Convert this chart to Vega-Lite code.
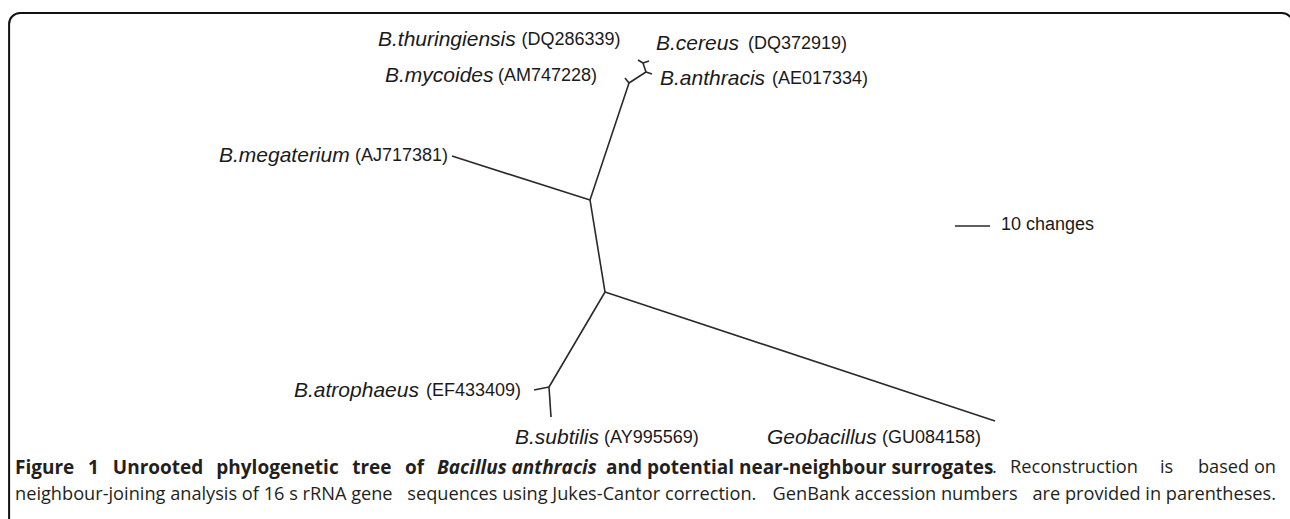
{
  "$schema": "https://vega.github.io/schema/vega-lite/v6.json",
  "width": 1290,
  "height": 519,
  "autosize": "none",
  "padding": 0,
  "background": "white",
  "config": {"view": {"stroke": null}},
  "datasets": {
    "frame": [{"x": 2.6, "y": 3.71, "x2": 369.4, "y2": 160}],
    "edges": [
      {"x": 168.57, "y": 57.14, "x2": 129.14, "y2": 44.6},
      {"x": 168.57, "y": 57.14, "x2": 172.86, "y2": 83.43},
      {"x": 168.57, "y": 57.14, "x2": 179.71, "y2": 23.71},
      {"x": 179.71, "y": 23.71, "x2": 178.57, "y2": 22.29},
      {"x": 179.71, "y": 23.71, "x2": 184.57, "y2": 20.57},
      {"x": 184.57, "y": 20.57, "x2": 186.29, "y2": 21.14},
      {"x": 184.57, "y": 20.57, "x2": 183.71, "y2": 18.0},
      {"x": 183.71, "y": 18.0, "x2": 182.29, "y2": 17.14},
      {"x": 183.71, "y": 18.0, "x2": 185.43, "y2": 17.43},
      {"x": 172.86, "y": 83.43, "x2": 156.86, "y2": 110.57},
      {"x": 156.86, "y": 110.57, "x2": 152.57, "y2": 111.43},
      {"x": 156.86, "y": 110.57, "x2": 157.43, "y2": 119.14},
      {"x": 172.86, "y": 83.43, "x2": 284.29, "y2": 120.29}
    ],
    "scalebar": [{"x": 272.86, "y": 64.57, "x2": 282.86, "y2": 64.57}],
    "names": [
      {"x": 108.0, "y": 11.43, "t": "B.thuringiensis"},
      {"x": 187.43, "y": 12.57, "t": "B.cereus"},
      {"x": 110.0, "y": 21.71, "t": "B.mycoides"},
      {"x": 188.57, "y": 22.57, "t": "B.anthracis"},
      {"x": 62.57, "y": 44.6, "t": "B.megaterium"},
      {"x": 84.0, "y": 111.71, "t": "B.atrophaeus"},
      {"x": 147.14, "y": 125.14, "t": "B.subtilis"},
      {"x": 219.14, "y": 125.14, "t": "Geobacillus"}
    ],
    "accs": [
      {"x": 149.0, "y": 11.43, "t": "(DQ286339)"},
      {"x": 213.71, "y": 12.57, "t": "(DQ372919)"},
      {"x": 142.29, "y": 21.71, "t": "(AM747228)"},
      {"x": 220.57, "y": 22.57, "t": "(AE017334)"},
      {"x": 101.43, "y": 44.6, "t": "(AJ717381)"},
      {"x": 121.71, "y": 111.71, "t": "(EF433409)"},
      {"x": 172.57, "y": 125.14, "t": "(AY995569)"},
      {"x": 252.0, "y": 125.14, "t": "(GU084158)"}
    ],
    "scaletext": [{"x": 286.0, "y": 64.29, "t": "10 changes"}],
    "capBold": [
      {"x": 4.29, "y": 133.71, "t": "Figure"},
      {"x": 25.17, "y": 133.71, "t": "1"},
      {"x": 32.23, "y": 133.71, "t": "Unrooted"},
      {"x": 61.8, "y": 133.71, "t": "phylogenetic"},
      {"x": 100.63, "y": 133.71, "t": "tree"},
      {"x": 115.69, "y": 133.71, "t": "of"},
      {"x": 173.14, "y": 133.71, "t": "and potential near-neighbour surrogates"}
    ],
    "capBoldItalic": [{"x": 124.86, "y": 133.71, "t": "Bacillus anthracis"}],
    "capLeft": [
      {"x": 283.43, "y": 133.71, "t": "."},
      {"x": 288.57, "y": 133.71, "t": "Reconstruction"},
      {"x": 331.43, "y": 133.71, "t": "is"},
      {"x": 4.29, "y": 141.43, "t": "neighbour-joining analysis of 16 s rRNA gene"},
      {"x": 116.37, "y": 141.43, "t": "sequences using Jukes-Cantor correction."},
      {"x": 220.74, "y": 141.43, "t": "GenBank accession numbers"}
    ],
    "capRight": [
      {"x": 364.57, "y": 133.71, "t": "based on"},
      {"x": 364.57, "y": 141.43, "t": "are provided in parentheses."}
    ]
  },
  "layer": [
    {
      "data": {"name": "frame"},
      "mark": {"type": "rect", "fill": "transparent", "stroke": "#111111", "strokeWidth": 2, "cornerRadius": 11},
      "encoding": {
        "x": {"field": "x", "type": "quantitative", "scale": {"domain": [0, 368.57], "nice": false, "zero": false}, "axis": null},
        "x2": {"field": "x2"},
        "y": {"field": "y", "type": "quantitative", "scale": {"domain": [0, 148.29], "nice": false, "zero": false, "reverse": true}, "axis": null},
        "y2": {"field": "y2"}
      }
    },
    {
      "data": {"name": "edges"},
      "mark": {"type": "rule", "stroke": "#2a2a2a", "strokeWidth": 1.6},
      "encoding": {
        "x": {"field": "x", "type": "quantitative", "scale": {"domain": [0, 368.57], "nice": false, "zero": false}, "axis": null},
        "x2": {"field": "x2"},
        "y": {"field": "y", "type": "quantitative", "scale": {"domain": [0, 148.29], "nice": false, "zero": false, "reverse": true}, "axis": null},
        "y2": {"field": "y2"}
      }
    },
    {
      "data": {"name": "scalebar"},
      "mark": {"type": "rule", "stroke": "#2a2a2a", "strokeWidth": 1.6},
      "encoding": {
        "x": {"field": "x", "type": "quantitative", "scale": {"domain": [0, 368.57], "nice": false, "zero": false}, "axis": null},
        "x2": {"field": "x2"},
        "y": {"field": "y", "type": "quantitative", "scale": {"domain": [0, 148.29], "nice": false, "zero": false, "reverse": true}, "axis": null},
        "y2": {"field": "y2"}
      }
    },
    {
      "data": {"name": "names"},
      "mark": {"type": "text", "align": "left", "baseline": "middle", "font": "Liberation Sans", "fontStyle": "italic", "fontSize": 21, "fill": "#1a1a1a"},
      "encoding": {
        "x": {"field": "x", "type": "quantitative", "scale": {"domain": [0, 368.57], "nice": false, "zero": false}, "axis": null},
        "y": {"field": "y", "type": "quantitative", "scale": {"domain": [0, 148.29], "nice": false, "zero": false, "reverse": true}, "axis": null},
        "text": {"field": "t"}
      }
    },
    {
      "data": {"name": "accs"},
      "mark": {"type": "text", "align": "left", "baseline": "middle", "font": "Liberation Sans", "fontSize": 18, "fill": "#1a1a1a"},
      "encoding": {
        "x": {"field": "x", "type": "quantitative", "scale": {"domain": [0, 368.57], "nice": false, "zero": false}, "axis": null},
        "y": {"field": "y", "type": "quantitative", "scale": {"domain": [0, 148.29], "nice": false, "zero": false, "reverse": true}, "axis": null},
        "text": {"field": "t"}
      }
    },
    {
      "data": {"name": "scaletext"},
      "mark": {"type": "text", "align": "left", "baseline": "middle", "font": "Liberation Sans", "fontSize": 18, "fill": "#1a1a1a"},
      "encoding": {
        "x": {"field": "x", "type": "quantitative", "scale": {"domain": [0, 368.57], "nice": false, "zero": false}, "axis": null},
        "y": {"field": "y", "type": "quantitative", "scale": {"domain": [0, 148.29], "nice": false, "zero": false, "reverse": true}, "axis": null},
        "text": {"field": "t"}
      }
    },
    {
      "data": {"name": "capBold"},
      "mark": {"type": "text", "align": "left", "baseline": "middle", "font": "Open Sans", "fontWeight": "bold", "fontSize": 19, "fill": "#231f20"},
      "encoding": {
        "x": {"field": "x", "type": "quantitative", "scale": {"domain": [0, 368.57], "nice": false, "zero": false}, "axis": null},
        "y": {"field": "y", "type": "quantitative", "scale": {"domain": [0, 148.29], "nice": false, "zero": false, "reverse": true}, "axis": null},
        "text": {"field": "t"}
      }
    },
    {
      "data": {"name": "capBoldItalic"},
      "mark": {"type": "text", "align": "left", "baseline": "middle", "font": "Open Sans", "fontWeight": "bold", "fontStyle": "italic", "fontSize": 19, "fill": "#231f20"},
      "encoding": {
        "x": {"field": "x", "type": "quantitative", "scale": {"domain": [0, 368.57], "nice": false, "zero": false}, "axis": null},
        "y": {"field": "y", "type": "quantitative", "scale": {"domain": [0, 148.29], "nice": false, "zero": false, "reverse": true}, "axis": null},
        "text": {"field": "t"}
      }
    },
    {
      "data": {"name": "capLeft"},
      "mark": {"type": "text", "align": "left", "baseline": "middle", "font": "Open Sans", "fontSize": 18.2, "fill": "#231f20"},
      "encoding": {
        "x": {"field": "x", "type": "quantitative", "scale": {"domain": [0, 368.57], "nice": false, "zero": false}, "axis": null},
        "y": {"field": "y", "type": "quantitative", "scale": {"domain": [0, 148.29], "nice": false, "zero": false, "reverse": true}, "axis": null},
        "text": {"field": "t"}
      }
    },
    {
      "data": {"name": "capRight"},
      "mark": {"type": "text", "align": "right", "baseline": "middle", "font": "Open Sans", "fontSize": 18.2, "fill": "#231f20"},
      "encoding": {
        "x": {"field": "x", "type": "quantitative", "scale": {"domain": [0, 368.57], "nice": false, "zero": false}, "axis": null},
        "y": {"field": "y", "type": "quantitative", "scale": {"domain": [0, 148.29], "nice": false, "zero": false, "reverse": true}, "axis": null},
        "text": {"field": "t"}
      }
    }
  ]
}
